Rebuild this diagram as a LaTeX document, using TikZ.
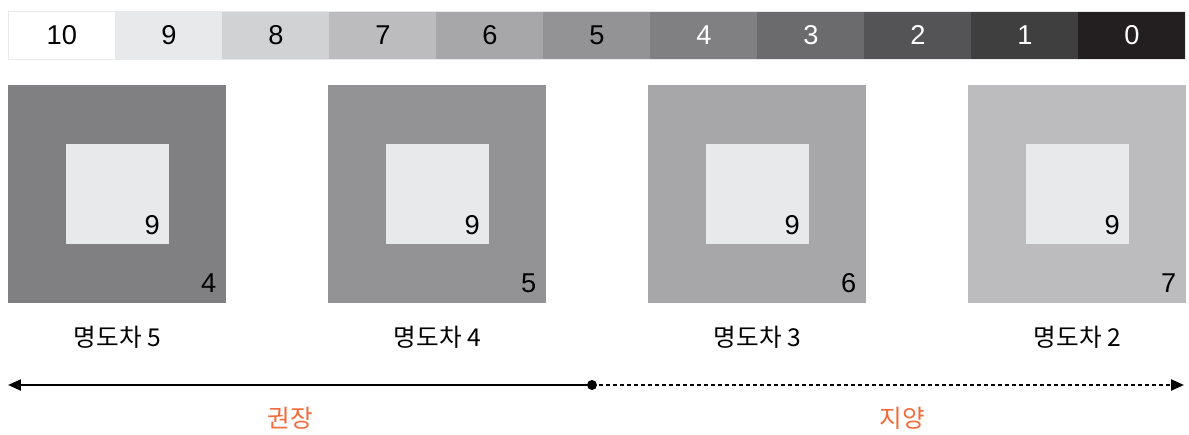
\documentclass[tikz,border=0pt]{standalone}
\usepackage{fontspec}
\setmainfont{Liberation Sans}
\newfontfamily\kofont{Noto Sans CJK KR}
\usetikzlibrary{arrows.meta}

\definecolor{g10}{HTML}{FFFFFF}
\definecolor{g9}{HTML}{E8E9EB}
\definecolor{g8}{HTML}{D1D2D4}
\definecolor{g7}{HTML}{BCBCBE}
\definecolor{g6}{HTML}{A7A7A9}
\definecolor{g5}{HTML}{939395}
\definecolor{g4}{HTML}{808082}
\definecolor{g3}{HTML}{6B6B6E}
\definecolor{g2}{HTML}{545456}
\definecolor{g1}{HTML}{3F3F40}
\definecolor{g0}{HTML}{231F20}
\definecolor{accent}{HTML}{F26B3A}

\begin{document}
\begin{tikzpicture}[x=0.02cm,y=-0.02cm,
    cell/.style={anchor=north west,inner sep=0,minimum width=2.14cm,minimum height=0.96cm,font=\fontsize{15.5}{16}\selectfont},
    outer/.style={anchor=north west,inner sep=0,minimum size=4.36cm},
    inner/.style={fill=g9,inner sep=0,minimum width=2.06cm,minimum height=2cm},
    num/.style={anchor=south east,inner sep=0,font=\fontsize{15.5}{16}\selectfont},
    caption/.style={font=\kofont\fontsize{14}{16}\selectfont},
    tag/.style={text=accent,font=\kofont\fontsize{14}{16}\selectfont}]

    \useasboundingbox (0,0) rectangle (1189,435);

    % colour bar
    \foreach \v [count=\i from 0] in {10,9,8,7,6,5}
      \node[cell,fill=g\v] (c\v) at ({8+107*\i},11) {\v};
    \foreach \v [count=\i from 6] in {4,3,2,1,0}
      \node[cell,fill=g\v,text=white] (c\v) at ({8+107*\i},11) {\v};
    \draw[g9,line width=0.4pt] (c10.north west) rectangle (c0.south east);

    % squares
    \foreach \o/\d [count=\i from 0] in {4/5,5/4,6/3,7/2} {
      \node[outer,fill=g\o] (o\i) at ({8+320*\i},85) {};
      \node[inner] (n\i) at (o\i.center) {};
      \node[num] (a\i) at ([xshift=-0.18cm,yshift=0.2cm]n\i.south east) {9};
      \node[num] (b\i) at ([xshift=-0.2cm,yshift=0.22cm]o\i.south east) {\o};
      \node[caption,below=0.32cm] (t\i) at (o\i.south) {명도차 \d};
    }

    % arrows
    \coordinate (mid) at (592,385);
    \coordinate (lend) at (8,385);
    \coordinate (rend) at (1184,385);
    \draw[line width=1.3pt,-{Triangle[length=0.26cm,width=0.22cm]}] (mid) -- (lend);
    \draw[line width=1.3pt,dash pattern=on 0.08cm off 0.06cm,-{Triangle[length=0.26cm,width=0.22cm]}] (mid) -- (rend);
    \fill (mid) circle (0.1cm);

    \node[tag] (good) at (290,418) {권장};
    \node[tag] (bad) at (902,418) {지양};

\end{tikzpicture}
\end{document}
